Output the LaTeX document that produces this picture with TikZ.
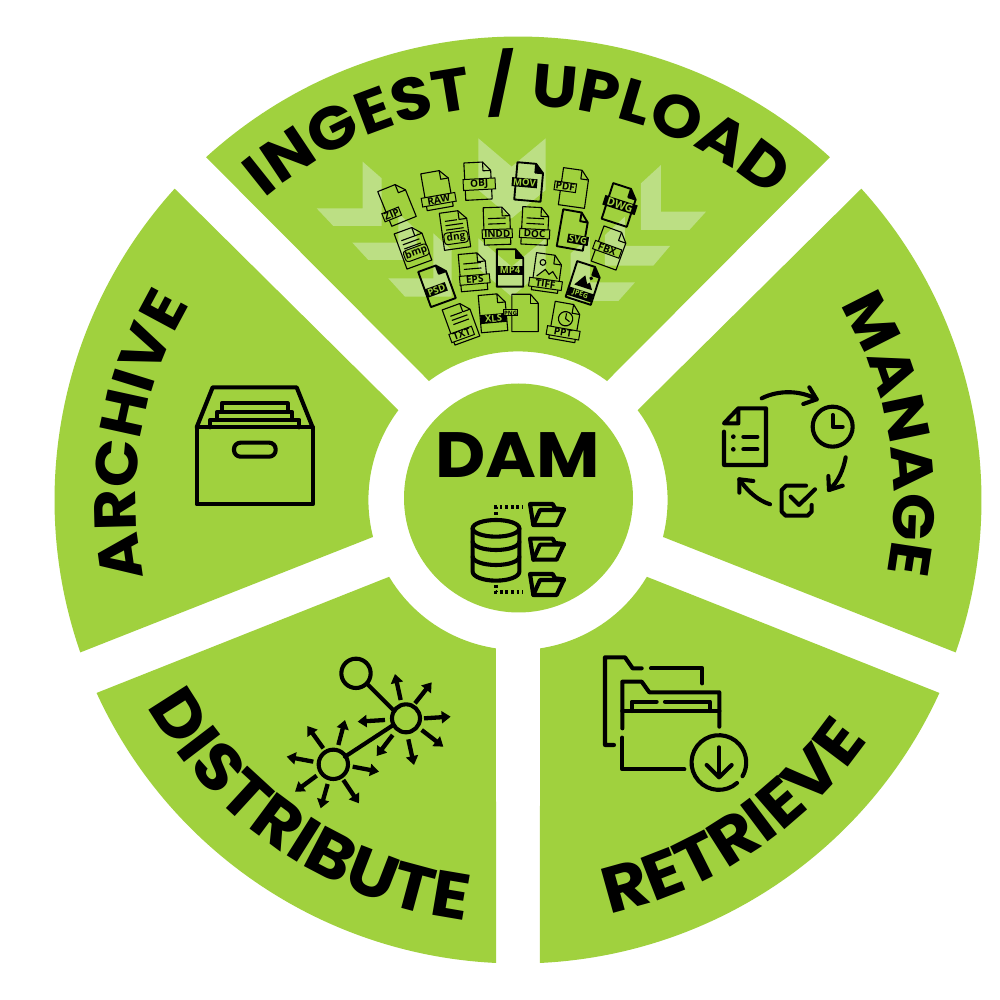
\documentclass[tikz,border=0pt]{standalone}
\usepackage{fontspec}
\usetikzlibrary{decorations.text,arrows.meta}
\newfontfamily\headfont{Poppins}[FakeStretch=1.08]
\newfontfamily\tagfont{Open Sans}
\definecolor{leaf}{HTML}{A0D13E}
\definecolor{paleleaf}{HTML}{BCDF84}
\newcommand\ringlabel[5]{% radius, start angle, end angle, size, text
  \path[decorate,decoration={text along path,text align=center,
    text={|\fontsize{#4}{#4}\headfont\bfseries|#5}}]
    (#2:#1) arc[start angle=#2,end angle=#3,radius=#1];}
% one file glyph: x, y, tilt, label, label position, label style, page style, inner drawing
\newcommand\fileic[8]{%
  \begin{scope}[shift={(#1,#2)},rotate=-#3,scale=1.1]
    \draw[#7] (-12,-17) -- (5,-17) -- (12,-9) -- (12,17) -- (-12,17) -- cycle;
    \draw[#7] (5,-17) -- (5,-9) -- (12,-9);
    #8
    \node[#6,rotate=#3] (tag#4) at (#5) {#4};
  \end{scope}}
\tikzset{
  x=1pt,y=1pt,
  sector/.style={fill=leaf},
  stroke/.style={line width=4.1pt,line cap=round,line join=round,black},
  thinpage/.style={line width=1.1pt,line join=round,black},
  heavypage/.style={line width=1.9pt,line join=round,black},
  lblg/.style={draw=black,line width=1pt,fill=leaf,text=black,inner xsep=1.2pt,inner ysep=.8pt,
    font=\fontsize{10}{10}\tagfont\bfseries},
  lblk/.style={fill=black,text=leaf,inner xsep=1.4pt,inner ysep=1pt,
    font=\fontsize{9.5}{9.5}\tagfont\bfseries},
  lbln/.style={lblg,font=\fontsize{6}{6}\tagfont\bfseries,inner xsep=.8pt},
  rule/.style={line width=1.1pt,black},
  pale/.style={fill=paleleaf},
  dots/.style={line width=3.8pt,black,dash pattern=on 2.8pt off 2.8pt},
  spoke/.style={line width=4.3pt,black,-{Triangle[width=12pt,length=9pt]}},
}
\begin{document}
\begin{tikzpicture}
\useasboundingbox (-518,-500) rectangle (482,500);
\fill[white] (-518,-500) rectangle (482,500);
% the five sectors of the ring
\fill[sector] (132.3:463.5) arc[start angle=132.3,end angle=47.7,radius=463.5] -- (53.2:148.6) arc[start angle=53.2,end angle=126.8,radius=148.6] -- cycle;
\fill[sector] (42.2:463.5) arc[start angle=42.2,end angle=-19.2,radius=463.5] -- (-14.3:149.6) arc[start angle=-14.3,end angle=36.9,radius=149.6] -- cycle;
\fill[sector] (-24.6:463.5) arc[start angle=-24.6,end angle=-87.3,radius=463.5] -- (-81.5:150) arc[start angle=-81.5,end angle=-30.8,radius=150] -- cycle;
\fill[sector] (-92.7:463.5) arc[start angle=-92.7,end angle=-155.4,radius=463.5] -- (-149.2:150) arc[start angle=-149.2,end angle=-98.5,radius=150] -- cycle;
\fill[sector] (199.2:463.5) arc[start angle=199.2,end angle=137.8,radius=463.5] -- (143.1:149.6) arc[start angle=143.1,end angle=194.3,radius=149.6] -- cycle;
\fill[sector] (.5,2) circle[radius=114.5];

% curved titles
\ringlabel{394}{140}{40}{60}{INGEST / UPLOAD}
\ringlabel{376}{48.5}{-28.5}{58}{MANAGE}
\ringlabel{424}{-100}{-12}{65}{RETRIEVE}
\ringlabel{424}{-172}{-76}{65}{DISTRIBUTE}
\ringlabel{382}{215.4}{125.4}{59}{ARCHIVE}

\begin{scope}[shift={(-518,500)},yscale=-1]
  \node[anchor=base,inner sep=0pt,font=\fontsize{64}{64}\headfont\bfseries] (dam) at (518,478) {DAM};

  % pale chevrons behind the file glyphs
  \begin{scope}[shift={(300,120)},scale=1/3]
    \fill[pale] (188,125) -- (245,175) -- (245,318) -- (100,318) -- (50,265) -- (188,265) -- cycle;
    \fill[pale] (295,280) -- (350,330) -- (350,420) -- (205,420) -- (157,368) -- (295,368) -- cycle;
    \fill[pale] (400,340) -- (455,390) -- (455,530) -- (315,530) -- (265,475) -- (400,475) -- cycle;
    \fill[pale] (1083,135) -- (1023,190) -- (1023,330) -- (1168,330) -- (1218,275) -- (1083,275) -- cycle;
    \fill[pale] (975,290) -- (915,345) -- (915,437) -- (1060,437) -- (1110,378) -- (975,378) -- cycle;
    \fill[pale] (870,350) -- (812,400) -- (812,543) -- (955,543) -- (1005,487) -- (870,487) -- cycle;
    \fill[pale] (535,55) -- (635,140) -- (737,55) -- (737,210) -- (635,295) -- (535,210) -- cycle;
    \fill[pale] (535,355) -- (635,440) -- (737,355) -- (737,445) -- (635,530) -- (535,445) -- cycle;
  \end{scope}

  % file glyphs, row by row
  \fileic{397}{204}{22}{ZIP}{-8,7}{lblg}{thinpage}{}
  \fileic{437}{190}{10}{RAW}{0,9}{lblg,minimum width=34pt}{thinpage}{}
  \fileic{478}{181}{3}{OBJ}{1,3}{lblg,minimum width=32pt}{thinpage}{}
  \fileic{529}{182}{-5}{MOV}{-4,1}{lblk}{heavypage}{\fill (5,-17) -- (5,-9) -- (12,-9) -- cycle;}
  \fileic{574}{188}{-8}{PDF}{-8,0}{lblg}{thinpage}{}
  \fileic{620}{205}{-18}{DWG}{0,0}{lblk,minimum width=34pt,font=\fontsize{11}{11}\tagfont\bfseries}{heavypage}{\fill (5,-17) -- (5,-9) -- (12,-9) -- cycle;}
  \fileic{413}{247}{20}{bmp}{1,6}{lblg,rounded corners=3pt}{thinpage}{\draw[rule] (-8,-9) -- (5,-9) (-8,-5) -- (8,-5) (-8,-1) -- (8,-1);}
  \fileic{455}{230}{8}{dng}{0,7}{lblg,rounded corners=3pt,minimum width=24pt}{thinpage}{\draw[rule] (-8,-9) -- (3,-9) (-8,-5) -- (8,-5) (-8,-1) -- (8,-1);}
  \fileic{497}{226}{2}{INDD}{0,7}{lblg,minimum width=30pt}{thinpage}{\draw[rule] (-8,-7) -- (8,-7) (-8,-2) -- (8,-2);}
  \fileic{535}{226}{-3}{DOC}{0,7}{lblg,minimum width=30pt}{thinpage}{\draw[rule] (-8,-7) -- (8,-7) (-8,-2) -- (8,-2);}
  \fileic{573}{230}{-10}{SVG}{6,8}{lblk}{heavypage}{}
  \fileic{610}{248}{-20}{FBX}{-2,2}{lblg,minimum width=28pt}{thinpage}{}
  \fileic{437}{285}{20}{PSD}{-2,4}{lblk}{heavypage}{\fill (5,-17) -- (5,-9) -- (12,-9) -- cycle;}
  \fileic{473}{272}{5}{EPS}{1,7}{lblg,minimum width=30pt}{thinpage}{\draw[rule] (-8,-8) -- (8,-8) (-8,-3) -- (8,-3);}
  \fileic{510}{268}{0}{MP4}{0,2}{lblk,minimum width=26pt}{heavypage}{\fill (5,-17) -- (5,-9) -- (12,-9) -- cycle;}
  \fileic{547}{273}{-8}{TIFF}{0,10}{lblg,minimum width=33pt}{thinpage}{\draw[rule] (-5,-9) circle[radius=2.6] (-9,4) -- (-2,-3) -- (2,1) -- (5,-2) -- (10,4);}
  \fileic{584}{283}{-18}{JPEG}{0,11}{lblk,minimum width=25pt,font=\fontsize{7}{7}\tagfont\bfseries}{heavypage}{\fill (5,-17) -- (5,-9) -- (12,-9) -- cycle; \fill (-8,4) -- (-1,-7) -- (3,0) -- (5,-2) -- (9,4) -- cycle; \fill (5,-6) circle[radius=1.8];}
  \fileic{461}{323}{20}{TXT}{-3,10}{lblg,minimum width=24pt}{thinpage}{\draw[rule] (-7,-9) -- (4,-9) (-7,-5) -- (8,-5) (-7,-1) -- (8,-1);}
  \fileic{493}{313}{5}{XLS}{0,5}{lblk,minimum width=26pt}{thinpage}{}
  \fileic{525}{313}{0}{PNG}{-13,0}{lbln}{thinpage}{}
  \fileic{565}{322}{-10}{PPT}{0,10}{lblg,minimum width=33pt}{thinpage}{\draw[rule] (0,-3) circle[radius=6.5] (0,-8) -- (0,-3) -- (4,-1);}

  % database with three folders
  \begin{scope}[shift={(400,400)},scale=1/3]
    \draw[stroke] (288,385) ellipse[x radius=70,y radius=25];
    \draw[stroke] (218,385) -- (218,515) arc[start angle=180,end angle=0,x radius=70,y radius=27] -- (358,385);
    \draw[stroke] (218,425) arc[start angle=180,end angle=0,x radius=70,y radius=25];
    \draw[stroke] (218,470) arc[start angle=180,end angle=0,x radius=70,y radius=25];
    \draw[dots] (288,345) -- (288,322) -- (368,322);
    \draw[dots] (288,555) -- (288,577) -- (368,577);
    \foreach \dy in {0,104,210}{
      \begin{scope}[yshift=\dy]
        \draw[stroke] (400,375) -- (390,312) -- (458,312) -- (465,325) -- (492,328) -- (470,375) -- cycle;
        \draw[stroke] (400,375) -- (420,330) -- (492,330);
      \end{scope}}
  \end{scope}

  % documents, clock and checkbox in a cycle
  \begin{scope}[shift={(700,370)},scale=1/3]
    \draw[stroke] (72,185) -- (72,285) -- (198,285) -- (198,115) -- (115,115) -- (72,160) -- (115,160) -- (115,115);
    \draw[stroke] (130,200) -- (172,200) (130,238) -- (172,238);
    \fill (100,200) circle[radius=7] (100,238) circle[radius=7];
    \draw[stroke] (398,170) circle[radius=60];
    \draw[stroke] (398,135) -- (398,170) -- (428,170);
    \draw[stroke] (318,347) -- (258,347) -- (245,360) -- (245,425) -- (257,437) -- (323,437) -- (335,425) -- (335,405);
    \draw[stroke] (272,380) -- (297,405) -- (345,358);
    \draw[stroke] (185,85) .. controls (235,60) and (300,60) .. (350,88);
    \draw[stroke] (328,52) -- (350,88) -- (310,102);
    \draw[stroke] (437,262) .. controls (430,300) and (415,335) .. (387,360);
    \draw[stroke] (385,318) -- (387,360) -- (428,347);
    \draw[stroke] (210,403) .. controls (170,390) and (140,360) .. (118,328);
    \draw[stroke] (160,333) -- (118,328) -- (118,368);
  \end{scope}

  % folders with a download badge
  \begin{scope}[shift={(590,640)},scale=1/3]
    \draw[stroke] (72,315) -- (45,315) -- (45,52) -- (105,52) -- (128,85) -- (155,85);
    \draw[stroke] (183,85) -- (337,85) -- (337,130);
    \draw[stroke] (97,265) -- (97,125) -- (155,125) -- (178,157) -- (388,157) -- (388,260);
    \draw[stroke] (97,213) -- (388,213);
    \draw[stroke] (125,213) -- (125,185) -- (200,185);
    \draw[stroke] (225,185) -- (360,185) -- (360,213);
    \draw[stroke] (97,293) -- (97,388) -- (283,388);
    \draw[stroke] (441,429) arc[start angle=48.5,end angle=390,radius=82];
    \draw[stroke] (387,322) -- (387,410);
    \draw[stroke] (350,375) -- (387,412) -- (425,375);
  \end{scope}

  % three hubs with outgoing arrows
  \begin{scope}[shift={(280,650)},scale=1/3]
    \draw[stroke] (228,70) circle[radius=44];
    \draw[stroke] (378,205) circle[radius=42];
    \draw[stroke] (160,343) circle[radius=44];
    \draw[stroke] (262,102) -- (340,180);
    \draw[stroke] (195,320) -- (340,225);
    \foreach \xa/\ya/\xb/\yb in {362/150/345/72,405/160/455/97,432/205/512/200,425/240/490/290,385/268/402/345,338/255/290/318,315/210/233/215,175/285/195/210,130/295/82/228,100/335/20/320,110/377/45/425,143/402/122/475,190/390/237/460,218/350/297/365}
      \draw[spoke] (\xa,\ya) -- (\xb,\yb);
  \end{scope}

  % archive box
  \begin{scope}[shift={(180,370)},scale=1/3]
    \draw[stroke] (50,172) rectangle (398,403);
    \draw[stroke] (50,172) -- (98,52) -- (350,52) -- (398,172);
    \draw[stroke] (90,172) -- (90,150) -- (358,150) -- (358,172);
    \draw[stroke] (112,150) -- (112,125) -- (335,125) -- (335,150);
    \draw[stroke] (125,125) -- (125,100) -- (323,100) -- (323,125);
    \draw[stroke,rounded corners=6.5pt] (162,218) rectangle (287,260);
  \end{scope}
\end{scope}
\end{tikzpicture}
\end{document}
